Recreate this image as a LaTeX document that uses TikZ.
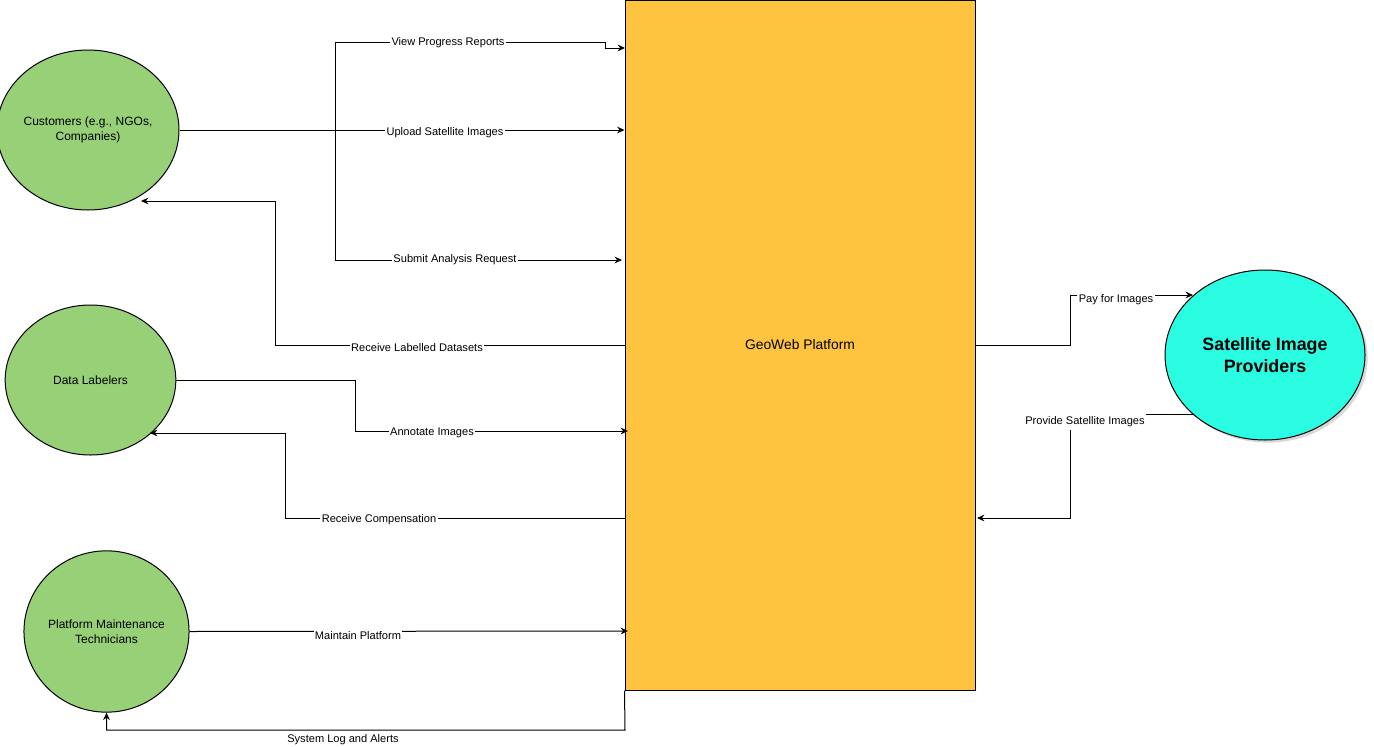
\documentclass[tikz,border=0pt]{standalone}
\usepackage{fontspec}
\setmainfont{Liberation Sans}
\usepackage{tikz}
\usetikzlibrary{shapes.geometric,arrows.meta,positioning,shadows}
\definecolor{entgreen}{HTML}{97D077}
\definecolor{procorange}{HTML}{FFC43F}
\definecolor{provcyan}{HTML}{2BFDE3}
\tikzset{
  entity/.style={draw, ellipse, fill=entgreen, line width=0.75pt, align=center, inner sep=0pt, font=\fontsize{9}{11}\selectfont},
  flow/.style={-{Stealth[length=5.5pt,width=5pt]}, line width=0.75pt},
  flowlabel/.style={fill=white, inner xsep=1pt, inner ysep=2pt, font=\fontsize{8.3}{10}\selectfont},
}

\begin{document}
\begin{tikzpicture}[x=0.75pt, y=-0.75pt]
\useasboundingbox (0,0) rectangle (1374,746);
% central process
\node[draw, fill=procorange, line width=0.75pt, minimum width=262.5pt, minimum height=517.5pt, font=\fontsize{10.4}{12}\selectfont] (geo) at (800,345) {GeoWeb Platform};
% external entities
\node[entity, minimum width=132pt, minimum height=120pt] (cust) at (88,130) {Customers (e.g., NGOs,\\Companies)};
\node[entity, minimum width=128pt, minimum height=112.5pt] (lab) at (90.5,380) {Data Labelers};
\node[entity, minimum width=122pt, minimum height=121pt] (maint) at (106.5,631.5) {Platform Maintenance\\Technicians};
\node[draw, ellipse, fill=provcyan, line width=0.75pt, align=center, inner sep=0pt, minimum width=150pt, minimum height=127.5pt, font=\fontsize{13.4}{16.5}\selectfont\bfseries, drop shadow={shadow xshift=2pt, shadow yshift=-2pt, opacity=0.3}] (prov) at (1265,355) {Satellite Image\\Providers};
% end points on the shapes
\coordinate (vprIn) at (625,48);
\coordinate (sarIn) at (622,260);
\coordinate (rldOut) at (141,201);
\coordinate (annIn) at (628,431);
\coordinate (rcFrom) at (625,518);
\coordinate (rcOut) at (150,433);
\coordinate (mpIn) at (628,631);
\coordinate (payIn) at (1193,295);
\coordinate (psiFrom) at (1193,414);
\coordinate (psiIn) at (977,518);
% customer flows
\draw[flow] (cust.east) -- (335,130) |- (605,42) |- (vprIn);
\draw[flow] (cust.east) -- (cust.east -| geo.west);
\draw[flow] (335,130) |- (sarIn);
\draw[flow] (geo.west) -- (275,345) |- (rldOut);
% labeler flows
\draw[flow] (lab.east) -- (355,380) |- (annIn);
\draw[flow] (rcFrom) -- (285,518) |- (rcOut);
% maintenance flows
\draw[flow] (maint.east) -- (mpIn);
\draw[flow] (geo.south west) -- (625,730) -| (maint.south);
% provider flows
\draw[flow] (geo.east) -- (1070,345) |- (payIn);
\draw[flow] (psiFrom) -- (1070,414) |- (psiIn);
% flow labels
\node[flowlabel] (l1) at (448,43) {View Progress Reports};
\node[flowlabel] (l2) at (445,133) {Upload Satellite Images};
\node[flowlabel] (l3) at (455,260) {Submit Analysis Request};
\node[flowlabel] (l4) at (417,348) {Receive Labelled Datasets};
\node[flowlabel] (l5) at (432,433) {Annotate Images};
\node[flowlabel] (l6) at (379,520) {Receive Compensation};
\node[flowlabel] (l7) at (358,636) {Maintain Platform};
\node[flowlabel, inner ysep=0.5pt] (l8) at (343,740) {System Log and Alerts};
\node[flowlabel] (l9) at (1116,300) {Pay for Images};
\node[flowlabel] (l10) at (1085,422) {Provide Satellite Images};
\end{tikzpicture}
\end{document}
